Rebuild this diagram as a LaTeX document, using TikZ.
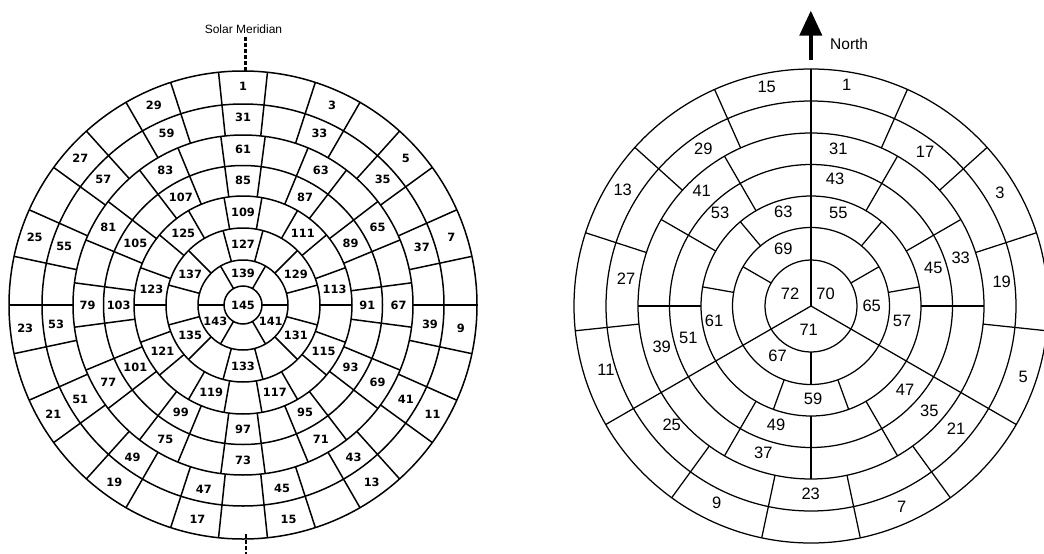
\documentclass[tikz,border=0pt]{standalone}
\usepackage{fontspec}
\setmainfont{Liberation Sans}
\newfontfamily\labfont{DejaVu Sans}
\usetikzlibrary{arrows.meta}
\begin{document}
\begin{tikzpicture}[x=1pt,y=-1pt,
  ring/.style={line width=1.5pt},
  lab/.style={font=\labfont\bfseries\fontsize{11.4}{13}\selectfont, inner sep=0pt},
  rring/.style={line width=1.25pt},
  rlab/.style={font=\fontsize{16.5}{18}\selectfont, inner sep=0pt},
  meridian/.style={line width=2.4pt, dash pattern=on 3.5pt off 2.5pt}]
\useasboundingbox (0,0) rectangle (1044,554);
\fill[white] (0,0) rectangle (1044,554);

% ---------- left diagram ----------
\foreach \rr in {19,45,77,109,139.5,170,201,234}
  \draw[ring] (243,305) circle[radius=\rr];
\foreach \ri/\ro/\cnt/\st/\off in {170/234/30/12/6, 109/170/24/15/7.5, 77/109/18/20/10, 45/77/12/30/15, 19/45/6/60/30}{
  \pgfmathtruncatemacro\mm{\cnt-1}
  \foreach \k in {0,...,\mm}{
    \pgfmathsetmacro\tt{\off+\st*\k}
    \draw[ring] ({243+\ri*sin(\tt)},{305-\ri*cos(\tt)}) -- ({243+\ro*sin(\tt)},{305-\ro*cos(\tt)});
  }}
\foreach \s/\cnt/\st/\rm in {1/15/24/219, 31/15/24/188, 61/12/30/155.5, 85/12/30/124.3, 109/9/40/93, 127/6/60/61, 139/3/120/32}{
  \foreach \k in {1,...,\cnt}{
    \pgfmathtruncatemacro\num{\s+2*(\k-1)}
    \pgfmathsetmacro\tt{\st*(\k-1)}
    \node[lab] (l\num) at ({243+\rm*sin(\tt)},{305-\rm*cos(\tt)}) {\num};
  }}
\node[lab] (l145) at (243,305) {145};

\node[font=\fontsize{12}{14}\selectfont, inner sep=0pt] (sm) at (243.5,29) {Solar Meridian};
\coordinate (mt) at (245.5,37);
\coordinate (mb) at (245.5,71);
\draw[meridian] (mt) -- (mb);
\coordinate (bt) at (246,534);
\coordinate (bb) at (246,556);
\draw[meridian] (bt) -- (bb);

% ---------- right diagram ----------
\foreach \rr in {46,78.5,110,141.5,173,205,237}
  \draw[rring] (811,306) circle[radius=\rr];
\foreach \ri/\ro/\cnt/\st in {173/237/15/24, 110/173/12/30, 78.5/110/9/40, 46/78.5/6/60, 0/46/3/120}{
  \pgfmathtruncatemacro\mm{\cnt-1}
  \foreach \k in {0,...,\mm}{
    \pgfmathsetmacro\tt{\st*\k}
    \draw[rring] ({811+\ri*sin(\tt)},{306-\ri*cos(\tt)}) -- ({811+\ro*sin(\tt)},{306-\ro*cos(\tt)});
  }}
\foreach \num/\px/\py in {15/766.7/86.8, 1/846.7/85, 29/703.3/148.7, 31/838.3/148.7, 17/925/152.3,
  13/622.7/189.4, 41/701.7/191.2, 43/835/178.8, 3/1000/193, 53/720/213.2, 63/783.3/211.4,
  55/838.3/213.2, 69/783.3/248.6, 45/933.3/268, 33/960.7/257.8, 19/1001.7/281.5, 27/626/279,
  72/790/294, 70/825.5/294, 65/871.7/305.4, 57/902/320.7, 61/714/321, 71/808.7/329.5,
  39/661.7/347, 51/688.3/338.2, 67/777.5/355.8, 11/606/370, 5/1023.3/377.1, 59/813/398.4,
  47/905/389.5, 35/929.3/410.8, 21/956/428.5, 49/776/424.9, 25/671.7/424.9, 37/763.3/453.3,
  23/810.7/494, 9/716.7/502.8, 7/901.7/507}
  \node[rlab] (r\num) at (\px,\py) {\num};

\coordinate (ntip) at (810.8,10.6);
\coordinate (nbase) at (810.8,59.5);
\draw[line width=4pt, -{Triangle[width=22pt,length=25pt]}] (nbase) -- (ntip);
\node[font=\fontsize{15.5}{17}\selectfont, anchor=west, inner sep=0pt] (north) at (830,44.3) {North};
\end{tikzpicture}
\end{document}
